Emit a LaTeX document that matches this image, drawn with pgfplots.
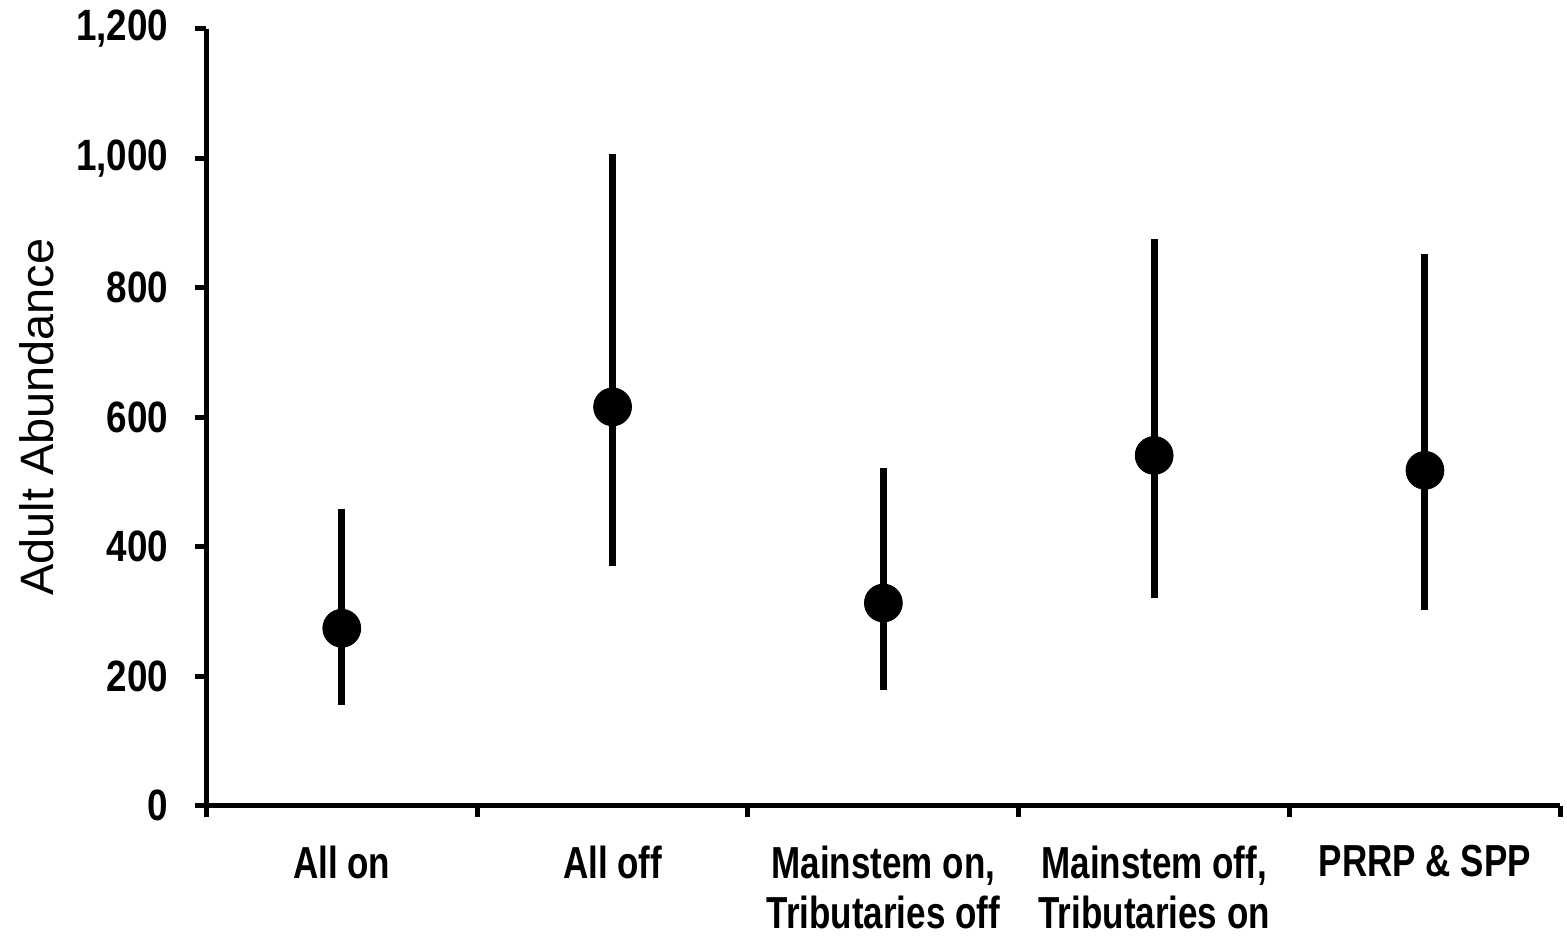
\documentclass[border=0pt]{standalone}
\usepackage{pgfplots}
\pgfplotsset{compat=1.18}
\usepackage{fontspec}
\setmainfont{Liberation Sans}
\newfontfamily\xlabfont[FakeStretch=0.78]{Liberation Sans Bold}
\newfontfamily\ylabfont[FakeStretch=0.84]{Liberation Sans Bold}
\begin{document}
\begin{tikzpicture}
\begin{axis}[
  scale only axis,
  width=679pt, height=389.5pt,
  xmin=-0.5, xmax=4.5,
  ymin=0, ymax=1200,
  axis x line=bottom, axis y line=left,
  axis line style={-, line width=2.5pt},
  tick align=outside,
  major tick length=5.5pt,
  ytick={0,200,...,1200},
  y tick style={line width=2.5pt, black},
  xtick={0,1,2,3,4},
  x tick style={draw=none},
  extra x ticks={-0.5,0.5,1.5,2.5,3.5,4.5},
  extra x tick labels={},
  extra x tick style={x tick style={draw=black, line width=2.5pt}},
  xticklabels={All on, All off, {Mainstem on,\\Tributaries off}, {Mainstem off,\\Tributaries on}, PRRP \& SPP},
  xticklabel style={font=\xlabfont\fontsize{22.5}{25.5}\selectfont, align=center, yshift=-11pt},
  yticklabel style={font=\ylabfont\fontsize{22}{25}\selectfont, xshift=-10pt},
  /pgf/number format/assume math mode=true,
  /pgf/number format/1000 sep={,},
  ylabel={Adult Abundance},
  ylabel style={font=\fontsize{23.5}{26}\selectfont, yshift=4.5pt},
  clip=false,
]
\addplot[only marks, mark=*, mark size=9.5pt, black,
  error bars/.cd, y dir=both, y explicit,
  error mark=none,
  error bar style={line width=3.5pt, black}]
coordinates {
  (0,274) += (0,185) -= (0,118)
  (1,616) += (0,390) -= (0,246)
  (2,313) += (0,208) -= (0,134)
  (3,541) += (0,334) -= (0,221)
  (4,518) += (0,334) -= (0,216)
};
\end{axis}
\path[use as bounding box] (-103.5pt,-66pt) rectangle (680pt,404pt);
\end{tikzpicture}
\end{document}
